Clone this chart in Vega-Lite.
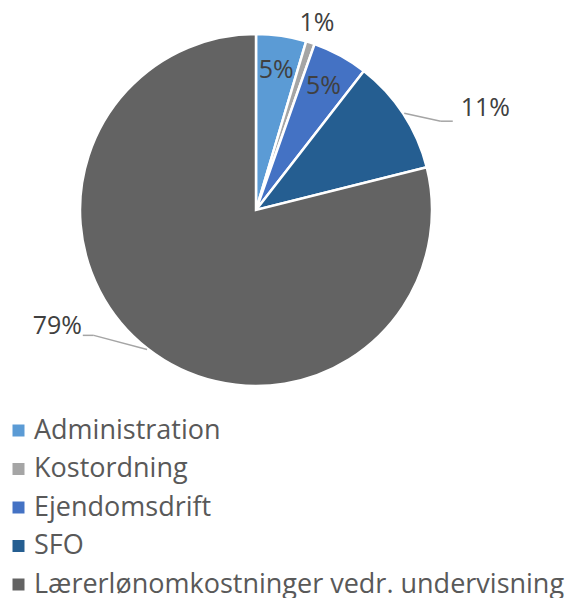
{
  "$schema": "https://vega.github.io/schema/vega-lite/v6.json",
  "width": 512,
  "height": 420,
  "padding": 0,
  "background": "white",
  "config": {"view": {"stroke": null}, "font": "Open Sans"},
  "data": {"values": [
    {"category": "Administration", "value": 0.046},
    {"category": "Kostordning", "value": 0.008},
    {"category": "Ejendomsdrift", "value": 0.051},
    {"category": "SFO", "value": 0.106},
    {"category": "Lærerlønomkostninger vedr. undervisning", "value": 0.789}
  ]},
  "transform": [
    {"window": [{"op": "sum", "field": "value", "as": "cum"}], "frame": [null, 0]},
    {"calculate": "datum.cum - datum.value", "as": "start"},
    {"calculate": "datum.cum - datum.value / 2", "as": "mid"}
  ],
  "layer": [
    {
      "mark": {"type": "arc", "outerRadius": 176, "stroke": "white", "strokeWidth": 2.5},
      "encoding": {
        "theta": {"field": "start", "type": "quantitative", "stack": null, "scale": {"domain": [0, 1]}},
        "theta2": {"field": "cum"},
        "color": {
          "field": "category", "type": "nominal",
          "scale": {
            "domain": ["Administration", "Kostordning", "Ejendomsdrift", "SFO", "Lærerlønomkostninger vedr. undervisning"],
            "range": ["#5B9BD5", "#A5A5A5", "#4472C4", "#255E91", "#636363"]
          },
          "legend": {
            "title": null, "orient": "none", "legendX": 5, "legendY": 417, "direction": "vertical",
            "symbolType": "square", "symbolSize": 144, "symbolStrokeWidth": 0,
            "labelFontSize": 27, "labelFont": "Open Sans", "labelColor": "#595959",
            "labelLimit": 600, "rowPadding": 10.5, "labelOffset": 2, "padding": 0
          }
        }
      }
    },
    {
      "transform": [{"filter": "datum.value > 0.02 && datum.value < 0.07"}],
      "mark": {"type": "text", "fontSize": 25, "color": "#404040", "font": "Open Sans"},
      "encoding": {
        "theta": {"field": "mid", "type": "quantitative", "stack": null, "scale": {"domain": [0, 1]}},
        "radius": {"value": 141},
        "text": {"field": "value", "type": "quantitative", "format": ".0%"}
      }
    },
    {
      "transform": [{"filter": "datum.value < 0.02"}],
      "mark": {"type": "text", "fontSize": 25, "color": "#404040", "font": "Open Sans"},
      "encoding": {
        "theta": {"field": "mid", "type": "quantitative", "stack": null, "scale": {"domain": [0, 1]}},
        "radius": {"value": 197},
        "text": {"field": "value", "type": "quantitative", "format": ".0%"}
      }
    },
    {
      "transform": [{"filter": "datum.value > 0.1 && datum.value < 0.5"}],
      "mark": {"type": "text", "fontSize": 25, "color": "#404040", "font": "Open Sans", "thetaOffset": 0.16},
      "encoding": {
        "theta": {"field": "mid", "type": "quantitative", "stack": null, "scale": {"domain": [0, 1]}},
        "radius": {"value": 251},
        "text": {"field": "value", "type": "quantitative", "format": ".0%"}
      }
    },
    {
      "transform": [{"filter": "datum.value > 0.5"}],
      "mark": {"type": "text", "fontSize": 25, "color": "#404040", "font": "Open Sans", "thetaOffset": 0.38},
      "encoding": {
        "theta": {"field": "mid", "type": "quantitative", "stack": null, "scale": {"domain": [0, 1]}},
        "radius": {"value": 230},
        "text": {"field": "value", "type": "quantitative", "format": ".0%"}
      }
    },
    {
      "transform": [
        {"filter": "datum.value > 0.1"},
        {"calculate": "datum.mid * 2 * PI", "as": "a0"},
        {"calculate": "datum.value > 0.5 ? 0.25 : 0.13", "as": "d"},
        {"calculate": "177 * sin(datum.a0)", "as": "x1"},
        {"calculate": "177 * cos(datum.a0)", "as": "y1"},
        {"calculate": "205 * sin(datum.a0 + datum.d)", "as": "x2"},
        {"calculate": "205 * cos(datum.a0 + datum.d)", "as": "y2"},
        {"calculate": "datum.x2 > 0 ? datum.x2 + 12 : datum.x2 - 11", "as": "x3"}
      ],
      "layer": [
        {
          "mark": {"type": "rule", "color": "#A5A5A5", "strokeWidth": 1.5},
          "encoding": {
            "x": {"field": "x1", "type": "quantitative", "scale": {"domain": [-256, 256], "nice": false, "zero": false}, "axis": null},
            "y": {"field": "y1", "type": "quantitative", "scale": {"domain": [-210, 210], "nice": false, "zero": false}, "axis": null},
            "x2": {"field": "x2"},
            "y2": {"field": "y2"}
          }
        },
        {
          "mark": {"type": "rule", "color": "#A5A5A5", "strokeWidth": 1.5},
          "encoding": {
            "x": {"field": "x2", "type": "quantitative", "scale": {"domain": [-256, 256], "nice": false, "zero": false}, "axis": null},
            "y": {"field": "y2", "type": "quantitative", "scale": {"domain": [-210, 210], "nice": false, "zero": false}, "axis": null},
            "x2": {"field": "x3"},
            "y2": {"field": "y2"}
          }
        }
      ]
    }
  ]
}
